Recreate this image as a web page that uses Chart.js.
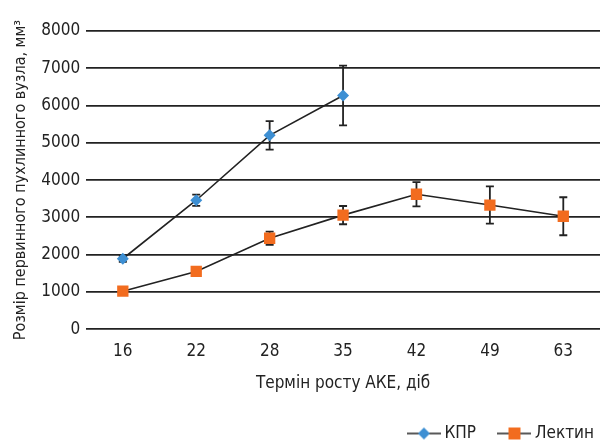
<!DOCTYPE html>
<html>
<head>
<meta charset="utf-8">
<script src="https://cdn.jsdelivr.net/npm/chart.js@4/dist/chart.umd.min.js"></script>
<style>
  html, body { margin: 0; padding: 0; background: #fff; }
  #wrap { width: 602px; height: 447px; }
</style>
</head>
<body>
<div id="wrap"><canvas id="myChart"></canvas></div>
<script>
const days = ["16", "22", "28", "35", "42", "49", "63"];
const kpr = [1890, 3460, 5200, 6270, null, null, null];
const kprErr = [80, 150, 380, 800, null, null, null];
const lectin = [1020, 1550, 2440, 3060, 3620, 3330, 3030];
const lectinErr = [0, 60, 180, 245, 325, 500, 510];
const yTicks = [0, 1000, 2000, 3000, 4000, 5000, 6000, 7000, 8000];

const font = "'DejaVu Sans Condensed', sans-serif";
const blue = "#3d8fd3";
const orange = "#f26c1f";

// legend swatch: line with marker in the middle
const swatch = (kind) => {
  const c = document.createElement("canvas");
  c.width = 34;
  c.height = 16;
  const g = c.getContext("2d");
  g.strokeStyle = "#222";
  g.lineWidth = 1.5;
  g.beginPath();
  g.moveTo(0, 8);
  g.lineTo(34, 8);
  g.stroke();
  if (kind === "diamond") {
    g.fillStyle = blue;
    g.beginPath();
    g.moveTo(17, 2);
    g.lineTo(23, 8);
    g.lineTo(17, 14);
    g.lineTo(11, 8);
    g.closePath();
    g.fill();
  } else {
    g.fillStyle = orange;
    g.fillRect(11, 2, 12, 12);
  }
  return c;
};

const errorBars = {
  id: "errorBars",
  beforeDatasetsDraw(chart) {
    const ctx = chart.ctx;
    const y = chart.scales.y;
    const errs = [kprErr, lectinErr];
    ctx.save();
    ctx.strokeStyle = "#222";
    ctx.lineWidth = 1.8;
    chart.data.datasets.forEach((ds, i) => {
      const meta = chart.getDatasetMeta(i);
      meta.data.forEach((pt, j) => {
        const v = ds.data[j];
        const e = errs[i][j];
        if (v == null || !e) return;
        const top = y.getPixelForValue(v + e);
        const bot = y.getPixelForValue(v - e);
        ctx.beginPath();
        ctx.moveTo(pt.x, top);
        ctx.lineTo(pt.x, bot);
        ctx.moveTo(pt.x - 4, top);
        ctx.lineTo(pt.x + 4, top);
        ctx.moveTo(pt.x - 4, bot);
        ctx.lineTo(pt.x + 4, bot);
        ctx.stroke();
      });
    });
    ctx.restore();
  },
};

const ctx = document.getElementById("myChart");
const myChart = new Chart(ctx, {
  type: "line",
  data: {
    labels: days,
    datasets: [
      {
        label: "КПР",
        data: kpr,
        borderColor: "#222",
        borderWidth: 1.6,
        backgroundColor: blue,
        pointStyle: "rectRot",
        pointRadius: 6,
        pointBorderWidth: 0,
        pointBackgroundColor: blue,
        spanGaps: false,
      },
      {
        label: "Лектин",
        data: lectin,
        borderColor: "#222",
        borderWidth: 1.6,
        backgroundColor: orange,
        pointStyle: "rect",
        pointRadius: 8,
        pointBorderWidth: 0,
        pointBackgroundColor: orange,
      },
    ],
  },
  options: {
    responsive: true,
    maintainAspectRatio: false,
    animation: false,
    layout: { autoPadding: false, padding: { left: 11, right: -6, top: 31, bottom: -5 } },
    plugins: {
      tooltip: { enabled: false },
      legend: {
        position: "bottom",
        align: "end",
        labels: {
          usePointStyle: true,
          pointStyleWidth: 24,
          color: "#222",
          font: { family: font, size: 17 },
          padding: 14,
          generateLabels: (chart) => [
            { text: "КПР \u2002", pointStyle: swatch("diamond"), datasetIndex: 0, fontColor: "#222", lineWidth: 0, strokeStyle: "transparent", fillStyle: "transparent" },
            { text: "Лектин", pointStyle: swatch("square"), datasetIndex: 1, fontColor: "#222", lineWidth: 0, strokeStyle: "transparent", fillStyle: "transparent" },
          ],
        },
      },
    },
    scales: {
      x: {
        offset: true,
        grid: { display: false },
        border: { display: false },
        ticks: { color: "#222", font: { family: font, size: 17 }, padding: 4 },
        afterFit: (axis) => {
          axis.paddingRight = 2;
        },
        title: {
          display: true,
          text: "Термін росту АКЕ, діб",
          color: "#222",
          font: { family: font, size: 17 },
          padding: { top: 8, bottom: 17 },
        },
      },
      y: {
        min: 0,
        max: 8000,
        afterBuildTicks: (axis) => {
          axis.ticks = yTicks.map((v) => ({ value: v }));
        },
        grid: { color: "#222", lineWidth: 1.8, drawTicks: false },
        border: { display: false },
        ticks: {
          color: "#222",
          font: { family: font, size: 17 },
          padding: 6,
          callback: (v) => String(v),
        },
        title: {
          display: true,
          text: "Розмір первинного пухлинного вузла, мм³",
          color: "#222",
          font: { family: font, size: 16 },
          padding: { top: 0, bottom: 5 },
        },
      },
    },
  },
  plugins: [errorBars],
});
</script>
</body>
</html>
